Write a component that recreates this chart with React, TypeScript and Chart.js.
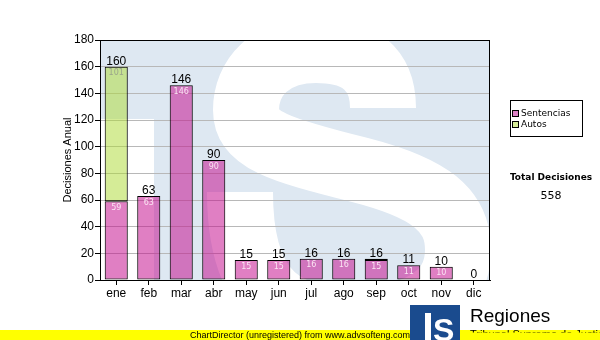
import { useEffect, useRef } from 'react';
import { Chart, registerables } from 'chart.js';

Chart.register(...registerables);

const categories = ['ene', 'feb', 'mar', 'abr', 'may', 'jun', 'jul', 'ago', 'sep', 'oct', 'nov', 'dic'];
const sentencias = [59, 63, 146, 90, 15, 15, 16, 16, 15, 11, 10, 0];
const autos = [101, null, null, null, null, null, null, null, 1, null, null, null];
const seriesNames = ['Sentencias', 'Autos'];
const yAxisTitle = 'Decisiones Anual';
const totalTitle = 'Total Decisiones';
const footerText = 'ChartDirector (unregistered) from www.advsofteng.com';
const logoTitle = 'Regiones';
const logoSubtitle = 'Tribunal Supremo de Justicia';

const fillColors = ['rgba(195,10,140,0.52)', 'rgba(175,218,55,0.52)'];
const legendColors = ['#dd82c6', '#d6ec98'];
const innerLabelColors = ['#fbe4f3', '#9aa58a'];

const bgPlugin = {
  id: 'bgPlugin',
  beforeDraw(chart: any) {
    const { ctx, chartArea } = chart;
    const { left, top, right, bottom } = chartArea;
    ctx.save();
    ctx.beginPath();
    ctx.rect(left, top, right - left, bottom - top);
    ctx.clip();
    ctx.fillStyle = '#dee8f2';
    ctx.fillRect(left, top, right - left, bottom - top);
    ctx.fillStyle = '#ffffff';
    ctx.fillRect(left, top + 79, 54, bottom - top - 79);
    // watermark "S"
    ctx.strokeStyle = '#ffffff';
    ctx.lineWidth = 66;
    ctx.lineCap = 'butt';
    ctx.lineJoin = 'round';
    ctx.beginPath();
    ctx.moveTo(383, 108);
    ctx.bezierCurveTo(383, 70, 360, 50, 316, 50);
    ctx.bezierCurveTo(270, 50, 246, 78, 246, 110);
    ctx.bezierCurveTo(246, 140, 280, 150, 360, 170);
    ctx.bezierCurveTo(430, 188, 458, 210, 458, 250);
    ctx.bezierCurveTo(458, 300, 410, 320, 350, 320);
    ctx.bezierCurveTo(290, 320, 240, 300, 240, 192);
    ctx.stroke();
    ctx.restore();
  },
};

const framePlugin = {
  id: 'framePlugin',
  beforeDatasetsDraw(chart: any) {
    const { ctx, chartArea } = chart;
    const { left, top, right, bottom } = chartArea;
    ctx.save();
    ctx.strokeStyle = '#000';
    ctx.lineWidth = 1;
    ctx.strokeRect(Math.round(left) + 0.5, Math.round(top) + 0.5, Math.round(right - left) - 1, Math.round(bottom - top));
    ctx.restore();
  },
};

const labelsPlugin = {
  id: 'labelsPlugin',
  afterDatasetsDraw(chart: any) {
    const { ctx, scales } = chart;
    const yScale = scales.y;
    const meta0 = chart.getDatasetMeta(0);
    ctx.save();
    ctx.textAlign = 'center';
    ctx.textBaseline = 'alphabetic';
    ctx.font = '8px "DejaVu Sans"';
    chart.data.datasets.forEach((ds: any, di: number) => {
      const meta = chart.getDatasetMeta(di);
      ds.data.forEach((v: any, i: number) => {
        if (v == null || v === 0) return;
        const el = meta.data[i];
        if (!el) return;
        const h = Math.abs(el.base - el.y);
        if (h < 12) return;
        ctx.fillStyle = innerLabelColors[di];
        ctx.fillText(String(v), el.x, el.y + 8.5);
      });
    });
    ctx.font = '12px "Liberation Sans"';
    ctx.fillStyle = '#000';
    categories.forEach((_, i) => {
      const total = (sentencias[i] || 0) + (autos[i] || 0);
      const x = meta0.data[i].x;
      const y = yScale.getPixelForValue(total);
      ctx.fillText(String(total), x, y - 2);
    });
    ctx.restore();
  },
};

const decorPlugin = {
  id: 'decorPlugin',
  afterDraw(chart: any) {
    const { ctx } = chart;
    ctx.save();
    // legend
    ctx.strokeStyle = '#000';
    ctx.lineWidth = 1;
    ctx.strokeRect(510.5, 100.5, 72, 36);
    ctx.font = '9px "DejaVu Sans"';
    ctx.textAlign = 'left';
    ctx.textBaseline = 'middle';
    seriesNames.forEach((name, i) => {
      const cy = 113.5 + i * 11;
      ctx.fillStyle = legendColors[i];
      ctx.fillRect(512.5, cy - 3, 6, 6);
      ctx.strokeRect(512.5, cy - 3, 6, 6);
      ctx.fillStyle = '#000';
      ctx.fillText(name, 521, cy + 0.5);
    });
    // total
    const total = sentencias.reduce((a, b) => a + (b || 0), 0) + autos.reduce((a: number, b) => a + (b || 0), 0);
    ctx.textAlign = 'center';
    ctx.font = 'bold 9px "DejaVu Sans"';
    ctx.fillText(totalTitle, 551, 177.5);
    ctx.font = '11px "DejaVu Sans"';
    ctx.fillText(String(total), 551, 196.5);
    // footer band
    ctx.fillStyle = '#ffff00';
    ctx.fillRect(0, 330, 600, 10);
    ctx.fillStyle = '#000';
    ctx.font = '9px "Liberation Sans"';
    ctx.textAlign = 'left';
    ctx.fillText(footerText, 190, 335.5);
    // logo
    ctx.fillStyle = '#1a4b8e';
    ctx.fillRect(410, 305, 50, 35);
    ctx.fillStyle = '#ffffff';
    ctx.fillRect(425, 313, 6, 27);
    ctx.save();
    ctx.beginPath();
    ctx.rect(431, 311, 27, 29);
    ctx.clip();
    ctx.font = 'bold 32px "Liberation Sans"';
    ctx.textBaseline = 'alphabetic';
    ctx.fillText('S', 433, 341);
    ctx.restore();
    ctx.fillStyle = '#000';
    ctx.font = '19px "Liberation Sans"';
    ctx.textBaseline = 'alphabetic';
    ctx.fillText(logoTitle, 470, 322);
    ctx.save();
    ctx.beginPath();
    ctx.rect(465, 326, 135, 6.5);
    ctx.clip();
    ctx.font = '11px "Liberation Sans"';
    ctx.fillText(logoSubtitle, 470, 338);
    ctx.restore();
    ctx.restore();
  },
};

export default function App() {
  const ref = useRef<HTMLCanvasElement | null>(null);
  useEffect(() => {
    if (!ref.current) return;
    const chart = new Chart(ref.current, {
      type: 'bar',
      data: {
        labels: categories,
        datasets: seriesNames.map((name, i) => ({
          label: name,
          data: i === 0 ? sentencias : autos,
          backgroundColor: fillColors[i],
          borderColor: '#000',
          borderWidth: 1,
          borderSkipped: false,
          barPercentage: 0.71,
          categoryPercentage: 1,
        })) as any,
      },
      options: {
        responsive: false,
        animation: false,
        devicePixelRatio: 1,
        layout: { padding: { left: 58, right: 110, top: 40, bottom: 35 } },
        plugins: { legend: { display: false }, tooltip: { enabled: false } },
        scales: {
          x: {
            stacked: true,
            offset: true,
            grid: { drawOnChartArea: false, offset: false, tickLength: 5, tickColor: '#000' },
            border: { color: '#000' },
            ticks: { color: '#000', font: { family: 'Liberation Sans', size: 12 }, padding: 1, maxRotation: 0, autoSkip: false },
            afterFit(s: any) { s.height = 25; },
          },
          y: {
            stacked: true,
            min: 0,
            max: 180,
            ticks: { stepSize: 20, color: '#000', font: { family: 'Liberation Sans', size: 12 }, padding: 1 },
            grid: { color: '#b8b8b8', tickLength: 5, tickColor: '#000' },
            border: { color: '#000' },
            title: { display: true, text: yAxisTitle, color: '#000', font: { family: 'Liberation Sans', size: 11 }, padding: { top: 3, bottom: 0 } },
            afterFit(s: any) { s.width = 42; },
          },
        },
      },
      plugins: [bgPlugin, framePlugin, labelsPlugin, decorPlugin],
    });
    return () => chart.destroy();
  }, []);
  return (
    <div style={{ position: 'absolute', left: 0, top: 0, width: 600, height: 340, background: '#fff' }}>
      <canvas ref={ref} width={600} height={340} style={{ width: 600, height: 340, display: 'block' }} />
    </div>
  );
}
